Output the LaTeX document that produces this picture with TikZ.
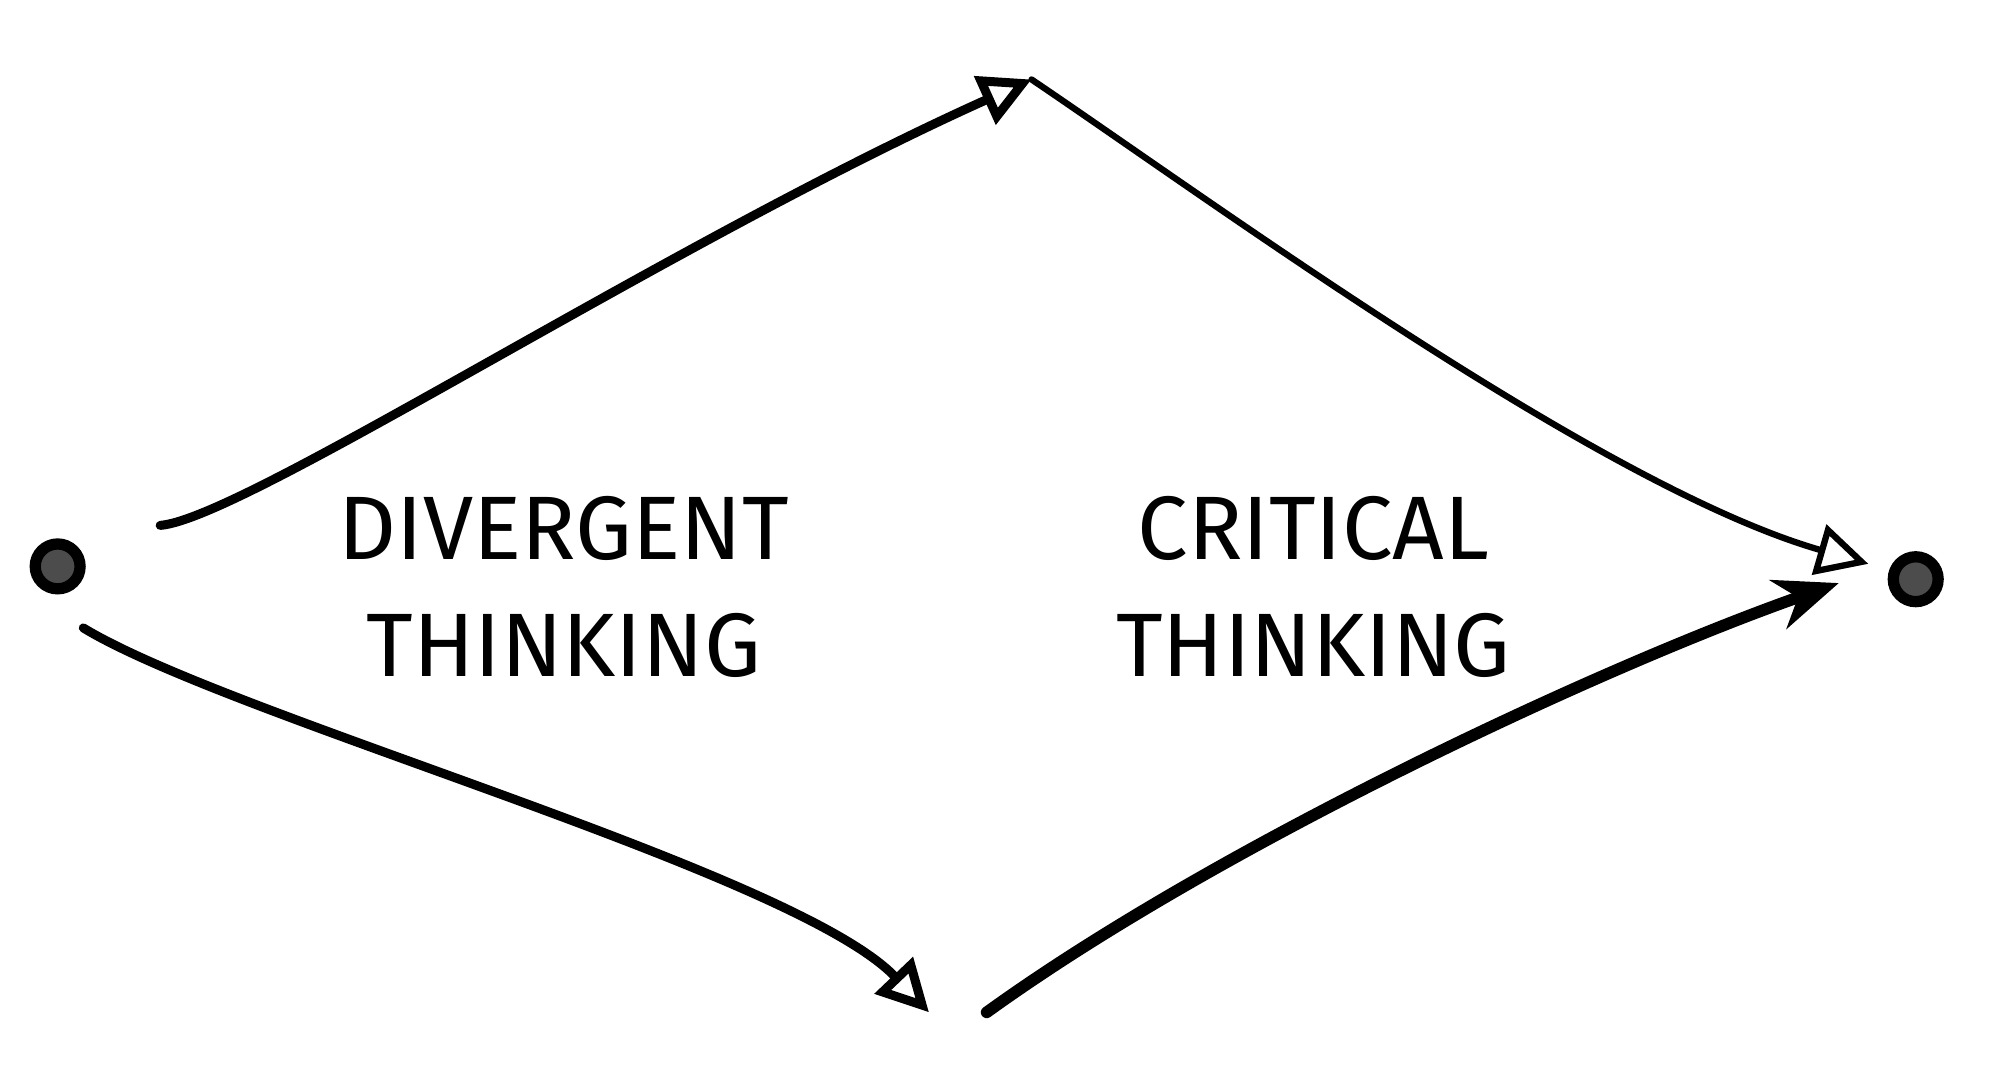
\documentclass[tikz,border=0pt]{standalone}
\usepackage{fontspec}
\setmainfont{Fira Sans}
\usepackage{tikz}
\usetikzlibrary{arrows.meta}

\begin{document}
\begin{tikzpicture}[
    x = 0.01cm, y = -0.01cm,
    line width = 2pt, line cap = round,
    dot/.style = {draw, fill = black!70, circle, line width = 2.5pt, minimum size = 3.5mm, inner sep = 0pt},
    label/.style = {align = center, font = \fontsize{20}{26}\selectfont}
  ]
  \useasboundingbox (0,0) rectangle (1560,847.5);

  % points
  \node[dot] (Start) at (45,442) {};
  \node[dot] (End) at (1495,452) {};
  \coordinate (Top) at (805,62);
  \coordinate (Bottom) at (725,790);

  % texts
  \node[label] (Div) at (440,458) {DIVERGENT\\THINKING};
  \node[label] (Crit) at (1025,458) {CRITICAL\\THINKING};

  % connectors
  \draw[-{Triangle[open,length=4mm,width=4mm]}]
    (125,410) .. controls (190,405) and (520,190) .. (Top);
  \draw[line width=1.4pt, -{Triangle[open,length=4mm,width=4mm]}]
    (Top) .. controls (950,160) and (1250,380) .. (1458,440);
  \draw[-{Triangle[open,length=4mm,width=4mm]}]
    (65,490) .. controls (180,560) and (620,680) .. (Bottom);
  \draw[line width=2.6pt, -{Stealth[length=5mm,width=4mm]}]
    (770,790) .. controls (950,660) and (1250,520) .. (1435,455);
\end{tikzpicture}
\end{document}
